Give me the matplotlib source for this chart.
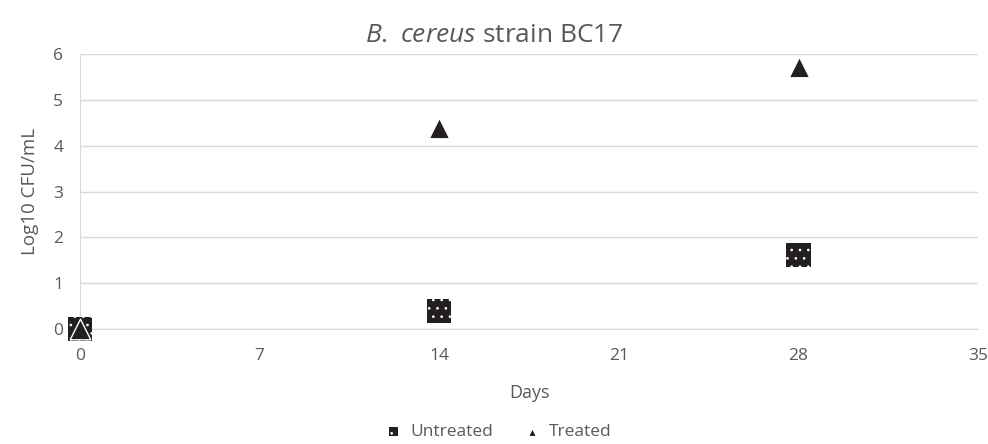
import matplotlib.pyplot as plt

# 字体与颜色
plt.rcParams['font.family'] = ['Open Sans', 'DejaVu Sans']
plt.rcParams['mathtext.fontset'] = 'custom'
plt.rcParams['mathtext.rm'] = 'Open Sans'
plt.rcParams['mathtext.it'] = 'Open Sans:italic'
plt.rcParams['hatch.color'] = 'white'
plt.rcParams['hatch.linewidth'] = 0.7

text_color = '#595959'
mark_color = '#231f20'

# 数据
days = [0, 14, 28]
untreated = [0.0, 0.39, 1.62]
treated = [0.0, 4.39, 5.72]
x_ticks = [0, 7, 14, 21, 28, 35]
y_ticks = [0, 1, 2, 3, 4, 5, 6]

fig = plt.figure(figsize=(9.88, 4.44), dpi=100)
ax = fig.add_axes([0.081, 0.259, 0.909, 0.619])

ax.scatter(days, untreated, marker='s', s=310, color=mark_color,
           edgecolor='white', hatch='..', linewidth=0, zorder=3,
           clip_on=False, label='Untreated')
ax.scatter(days, treated, marker='^', s=220, color=mark_color,
           edgecolor='white', linewidth=1.0, zorder=4,
           clip_on=False, label='Treated')

ax.set_xlim(0, 35)
ax.set_ylim(0, 6)
ax.set_xticks(x_ticks)
ax.set_yticks(y_ticks)
ax.grid(axis='y', color='#d9d9d9', linewidth=1)
ax.set_axisbelow(True)
for s in ['top', 'right']:
    ax.spines[s].set_visible(False)
for s in ['left', 'bottom']:
    ax.spines[s].set_color('#d9d9d9')
ax.tick_params(length=0, labelsize=12.5, colors=text_color)
ax.tick_params(axis='x', pad=14)
ax.tick_params(axis='y', pad=12)
ax.set_xlabel('Days', fontsize=13, color=text_color, labelpad=14)
ax.set_ylabel('Log10 CFU/mL', fontsize=13.5, color=text_color, labelpad=10)

fig.text(0.5, 0.921, r'$\it{B.\ cereus}$ strain BC17', ha='center', va='center',
         fontsize=19, color=text_color)

leg = fig.legend(loc='center', bbox_to_anchor=(0.5, 1 - 432 / 444), ncol=2, frameon=False,
                 fontsize=12.5, labelcolor=text_color, handletextpad=0.0,
                 columnspacing=1.2, markerscale=0.4)

fig.savefig('out.png', dpi=100)
